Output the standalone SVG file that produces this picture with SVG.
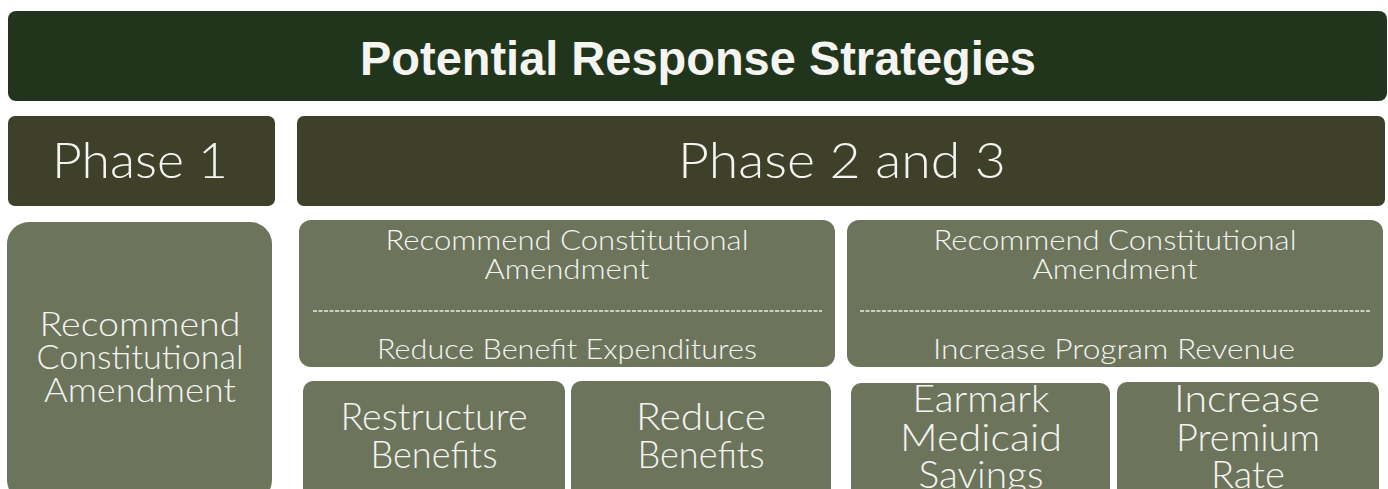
<svg xmlns="http://www.w3.org/2000/svg" width="1388" height="489" viewBox="0 0 1388 489">
  <style>
    .title { fill: #21351c; }
    .phase { fill: #3e4029; }
    .box { fill: #6c755c; }
    text { font-family: "Lato", "Liberation Sans", "DejaVu Sans", sans-serif; font-weight: 300; fill: #f4f4f0; text-anchor: middle; }
    .t-title { font-family: "Liberation Sans", "DejaVu Sans", sans-serif; font-size: 48px; font-weight: bold; }
    .t-phase { font-size: 49px; }
    .t-left { font-size: 33px; }
    .t-mid { font-size: 28px; }
    .t-leaf { font-size: 37px; }
    .sep { stroke: #ecece6; stroke-width: 1.3; stroke-dasharray: 4 1.5; }
  </style>
  <rect width="1388" height="489" fill="#ffffff"/>

  <g id="header">
    <rect class="title" x="8" y="11" width="1379" height="90" rx="8"/>
    <text class="t-title" x="698" y="75" textLength="676" lengthAdjust="spacingAndGlyphs">Potential Response Strategies</text>
  </g>

  <g id="phase1">
    <rect class="phase" x="8" y="116" width="267" height="90" rx="7"/>
    <text class="t-phase" x="140" y="178" textLength="176" lengthAdjust="spacingAndGlyphs">Phase 1</text>
  </g>

  <g id="phase23">
    <rect class="phase" x="297" y="116" width="1088" height="90" rx="7"/>
    <text class="t-phase" x="842" y="178" textLength="328" lengthAdjust="spacingAndGlyphs">Phase 2 and 3</text>
  </g>

  <g id="phase1-amendment">
    <rect class="box" x="7" y="222" width="265" height="280" rx="22"/>
    <text class="t-left" x="140" y="336" textLength="201" lengthAdjust="spacingAndGlyphs">Recommend</text>
    <text class="t-left" x="140" y="369" textLength="207" lengthAdjust="spacingAndGlyphs">Constitutional</text>
    <text class="t-left" x="140" y="402" textLength="192" lengthAdjust="spacingAndGlyphs">Amendment</text>
  </g>

  <g id="reduce-expenditures">
    <rect class="box" x="299" y="220" width="536" height="147" rx="12"/>
    <text class="t-mid" x="567" y="250" textLength="363" lengthAdjust="spacingAndGlyphs">Recommend Constitutional</text>
    <text class="t-mid" x="567" y="279" textLength="165" lengthAdjust="spacingAndGlyphs">Amendment</text>
    <line class="sep" x1="313" y1="311" x2="822" y2="311"/>
    <text class="t-mid" x="567" y="359" textLength="380" lengthAdjust="spacingAndGlyphs">Reduce Benefit Expenditures</text>
  </g>

  <g id="increase-revenue">
    <rect class="box" x="847" y="220" width="536" height="147" rx="12"/>
    <text class="t-mid" x="1115" y="250" textLength="363" lengthAdjust="spacingAndGlyphs">Recommend Constitutional</text>
    <text class="t-mid" x="1115" y="279" textLength="165" lengthAdjust="spacingAndGlyphs">Amendment</text>
    <line class="sep" x1="860" y1="311" x2="1370" y2="311"/>
    <text class="t-mid" x="1114" y="359" textLength="362" lengthAdjust="spacingAndGlyphs">Increase Program Revenue</text>
  </g>

  <g id="restructure-benefits">
    <rect class="box" x="303" y="381" width="262" height="120" rx="10"/>
    <text class="t-leaf" x="434" y="430" textLength="187" lengthAdjust="spacingAndGlyphs">Restructure</text>
    <text class="t-leaf" x="434" y="468" textLength="127" lengthAdjust="spacingAndGlyphs">Benefits</text>
  </g>

  <g id="reduce-benefits">
    <rect class="box" x="571" y="381" width="260" height="120" rx="10"/>
    <text class="t-leaf" x="701" y="430" textLength="130" lengthAdjust="spacingAndGlyphs">Reduce</text>
    <text class="t-leaf" x="701" y="468" textLength="127" lengthAdjust="spacingAndGlyphs">Benefits</text>
  </g>

  <g id="earmark-savings">
    <rect class="box" x="851" y="383" width="259" height="118" rx="10"/>
    <text class="t-leaf" x="981" y="412" textLength="137" lengthAdjust="spacingAndGlyphs">Earmark</text>
    <text class="t-leaf" x="981" y="451" textLength="162" lengthAdjust="spacingAndGlyphs">Medicaid</text>
    <text class="t-leaf" x="981" y="488" textLength="125" lengthAdjust="spacingAndGlyphs">Savings</text>
  </g>

  <g id="increase-premium">
    <rect class="box" x="1117" y="382" width="262" height="119" rx="10"/>
    <text class="t-leaf" x="1247" y="412" textLength="146" lengthAdjust="spacingAndGlyphs">Increase</text>
    <text class="t-leaf" x="1248" y="451" textLength="144" lengthAdjust="spacingAndGlyphs">Premium</text>
    <text class="t-leaf" x="1248" y="488" textLength="74" lengthAdjust="spacingAndGlyphs">Rate</text>
  </g>

  <g id="connectors"></g>
</svg>
